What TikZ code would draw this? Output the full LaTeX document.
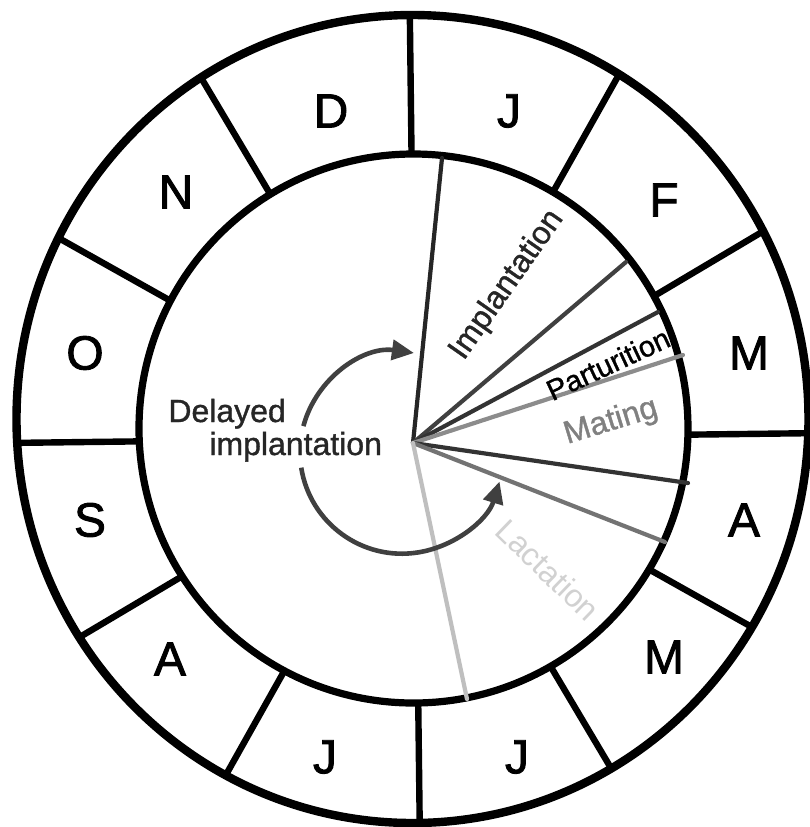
\documentclass[tikz,border=0pt]{standalone}
\usepackage{fontspec}
\setmainfont{Liberation Sans}
\newfontfamily\policemois{Liberation Sans}[FakeBold=1.8]
\newfontfamily\policephase{Liberation Sans}[FakeBold=1.1]
\usetikzlibrary{arrows.meta}

\begin{document}
\begin{tikzpicture}[x=0.5pt,y=-0.5pt,
    mois/.style={font=\policemois\fontsize{24}{28}\selectfont, inner sep=0pt},
    phase/.style={font=\policephase\fontsize{16}{19}\selectfont, inner sep=0pt},
    rayon/.style={line width=2.1pt, line cap=round},
    fleche/.style={line width=2.3pt, draw=black!75, -{Triangle[length=11pt,width=10pt]}}]
  \useasboundingbox (0,0) rectangle (810,827);

  % Separations des mois
  \begin{scope}
    \clip (412.5,419) ellipse (396 and 404);
    \foreach \a in {0,30,...,330}
      \draw[line width=3.2pt, shift={(415,438)}] (\a-0.7:240) -- (\a-0.7:440);
  \end{scope}

  % Cercle exterieur
  \draw[line width=4.2pt] (412.5,419) ellipse (396 and 404);

  % Cercle interieur
  \filldraw[fill=white, line width=3.6pt] (413.5,428.5) circle (274.5);

  % Mois
  \node[mois] (dec) at (331,111) {D};
  \node[mois] (jan) at (509,111) {J};
  \node[mois] (fev) at (664,200) {F};
  \node[mois] (mar) at (749,353) {M};
  \node[mois] (avr) at (744,520) {A};
  \node[mois] (mai) at (664,657) {M};
  \node[mois] (juin) at (517,757) {J};
  \node[mois] (juil) at (325,757) {J};
  \node[mois] (aout) at (170,659) {A};
  \node[mois] (sep) at (90,520) {S};
  \node[mois] (oct) at (85,353) {O};
  \node[mois] (nov) at (176,192) {N};

  % Rayons des phases
  \coordinate (c) at (413,443);
  \draw[rayon, draw=black!85] (c) -- (442,158);
  \draw[rayon, draw=black!75] (c) -- (626,262);
  \draw[rayon, draw=black!80] (c) -- (658,312);
  \draw[rayon, draw=black!45] (c) -- (683,355);
  \draw[rayon, draw=black!80] (c) -- (688,483);
  \draw[rayon, draw=black!55] (c) -- (665,542);
  \draw[rayon, draw=black!25] (c) -- (467,699);

  % Fleches circulaires
  \draw[fleche] (400,452) ++(-165:100) arc[start angle=-165, end angle=-82, radius=100];
  \draw[fleche] (400,452) ++(-189:100) arc[start angle=-189, end angle=-343, radius=102];

  % Textes des phases
  \node[phase, text=black!85, anchor=base west] (retard) at (168,422) {Delayed};
  \node[phase, text=black!85, anchor=base west] (retard2) at (209,455) {implantation};
  \node[phase, text=black!85, rotate=55] (impl) at (507,285) {Implantation};
  \node[phase, font=\policephase\fontsize{14.5}{17}\selectfont, rotate=25] (part) at (608,364) {Parturition};
  \node[phase, text=black!50, rotate=17] (accoup) at (611,422) {Mating};
  \node[phase, font=\fontsize{16}{19}\selectfont, text=black!18, rotate=-44] (lact) at (548,570) {Lactation};
\end{tikzpicture}
\end{document}
